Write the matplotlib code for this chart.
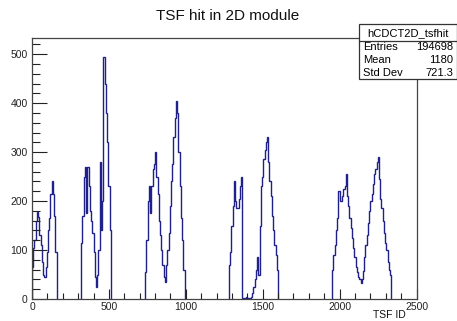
import matplotlib
matplotlib.use("Agg")
import matplotlib.pyplot as plt
from matplotlib.patches import Rectangle
import numpy as np

plt.rcParams['font.family'] = ['Liberation Sans', 'DejaVu Sans']

# TSF hits in bins of 8 TSF IDs, one list per axial superlayer
bin_width = 8
sl0_start = 0
sl0_hits = [65, 105, 120, 160, 178, 168, 130, 110, 75, 50,
            45, 65, 95, 140, 165, 215, 240, 215, 170, 95]
sl2_start = 320
sl2_hits = [115, 170, 250, 270, 175, 270, 230, 180, 160, 135, 95, 45,
            25, 50, 100, 280, 140, 200, 495, 440, 380, 320, 230, 140]
sl4_start = 736
sl4_hits = [55, 120, 200, 230, 175, 230, 265, 275, 300, 250, 215, 160, 130, 100, 70, 45,
            35, 70, 100, 135, 190, 240, 275, 330, 370, 405, 380, 300, 230, 165, 120, 60]
sl6_start = 1280
sl6_hits = [70, 95, 150, 190, 240, 200, 185, 185, 205, 230, 250, 3, 0, 2, 5, 3, 0, 2, 5, 12,
            25, 40, 60, 85, 50, 150, 230, 250, 285, 305, 320, 330, 280, 240, 210, 170, 140, 110, 90, 60]
sl8_start = 1952
sl8_hits = [60, 90, 110, 140, 165, 220, 200, 200, 210, 225, 230, 255, 210, 190, 165, 145,
            125, 105, 85, 65, 55, 45, 40, 32, 40, 58, 85, 110, 130, 155, 180, 200,
            215, 235, 255, 265, 280, 290, 245, 205, 185, 160, 135, 115, 100, 75, 60, 50]

segments = [(sl0_start, sl0_hits), (sl2_start, sl2_hits), (sl4_start, sl4_hits),
            (sl6_start, sl6_hits), (sl8_start, sl8_hits)]

hist_name = "hCDCT2D_tsfhit"
stat_names = ["Entries", "Mean", "Std Dev"]
stat_values = ["194698", "1180", "721.3"]

W, H = 457, 321
fig = plt.figure(figsize=(W / 100, H / 100), dpi=100)
ax = fig.add_axes([32 / W, 1 - 299 / H, 384.5 / W, 261 / H])

line_col = '#20208a'
for start, hits in segments:
    edges = start + bin_width * np.arange(len(hits) + 1)
    ax.stairs(hits, edges, baseline=0, color=line_col, linewidth=1.0)

ax.set_xlim(0, 2500)
ax.set_ylim(0, 533)
ax.set_xticks(np.arange(0, 2501, 500))
ax.set_xticks(np.arange(0, 2501, 100), minor=True)
ax.set_yticks(np.arange(0, 501, 100))
ax.set_yticks(np.arange(0, 521, 20), minor=True)
ax.tick_params(which='both', direction='in', top=False, right=False,
               labelsize=7.5, colors='#222222', width=0.8)
ax.tick_params(axis='y', which='major', length=11, pad=3)
ax.tick_params(axis='y', which='minor', length=5.5)
ax.tick_params(axis='x', which='major', length=7, pad=2)
ax.tick_params(axis='x', which='minor', length=4)
for s in ax.spines.values():
    s.set_color('#444444')
    s.set_linewidth(0.9)

fig.text(228 / W, 1 - 16 / H, "TSF hit in 2D module", ha='center', va='center',
         fontsize=11, color='#111111')
fig.text(406 / W, 1 - 320 / H, "TSF ID", ha='right', va='bottom',
         fontsize=7.5, color='#111111')

# stat box
bx0, bx1 = 359 / W, 456.5 / W
by_top, by_sep, by_bot = 1 - 24 / H, 1 - 41 / H, 1 - 79.3 / H
fig.add_artist(Rectangle((bx0, by_bot), bx1 - bx0, by_top - by_bot, transform=fig.transFigure,
                         facecolor='white', edgecolor='#333333', linewidth=0.9, zorder=5))
fig.add_artist(plt.Line2D([bx0, bx1], [by_sep, by_sep], transform=fig.transFigure,
                          color='#333333', linewidth=0.9, zorder=6))
fig.text((bx0 + bx1) / 2, 1 - 32.7 / H, hist_name, ha='center', va='center',
         fontsize=8, zorder=7)
for i, (name, val) in enumerate(zip(stat_names, stat_values)):
    y = 1 - (46.5 + 13.2 * i) / H
    fig.text(363 / W, y, name, ha='left', va='center', fontsize=8, zorder=7)
    fig.text(453.5 / W, y, val, ha='right', va='center', fontsize=8, zorder=7)

fig.savefig("out.png", dpi=100)
